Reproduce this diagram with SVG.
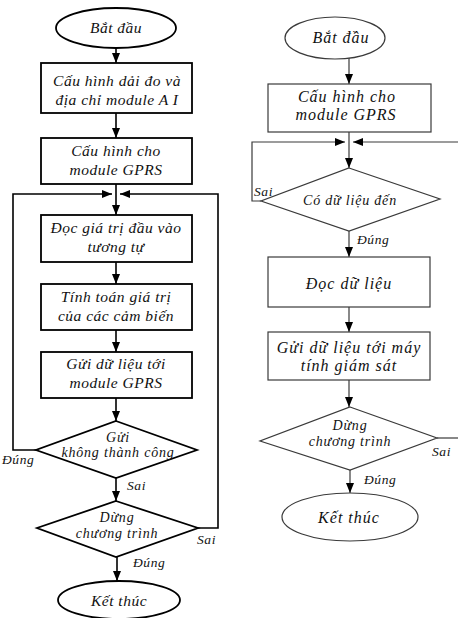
<svg xmlns="http://www.w3.org/2000/svg" width="458" height="618" viewBox="0 0 458 618">
<style>
  .bgL { fill: #fff; stroke: #000; stroke-width: 1.8; }
  .bgR { fill: #fff; stroke: #3a3a3a; stroke-width: 1.2; }
  .t { font-family: "Liberation Serif", "Times New Roman", serif; font-style: italic; font-size: 15.5px; fill: #111; text-anchor: middle; letter-spacing: 0.5px; }
  .tr { font-family: "Liberation Serif", "Times New Roman", serif; font-style: italic; font-size: 16px; fill: #111; text-anchor: middle; letter-spacing: 1px; }
  .ts { font-family: "Liberation Serif", "Times New Roman", serif; font-style: italic; font-size: 14px; fill: #111; text-anchor: middle; letter-spacing: 0.8px; }
  .lbl { font-family: "Liberation Serif", "Times New Roman", serif; font-style: italic; font-size: 13.5px; fill: #111; letter-spacing: 0.6px; }
  .cL { fill: none; stroke: #000; stroke-width: 1.6; }
  .cR { fill: none; stroke: #3a3a3a; stroke-width: 1.2; }
</style>
<defs>
  <marker id="ah" markerUnits="userSpaceOnUse" markerWidth="10" markerHeight="8" refX="10" refY="4" orient="auto">
    <path d="M0,0 L10,4 L0,8 z" fill="#000"/>
  </marker>
</defs>

<g id="connectors">
  <!-- left chart -->
  <line class="cL" x1="116" y1="48" x2="116" y2="63" marker-end="url(#ah)"/>
  <line class="cL" x1="116" y1="113" x2="116" y2="138" marker-end="url(#ah)"/>
  <line class="cL" x1="116" y1="184" x2="116" y2="215" marker-end="url(#ah)"/>
  <polyline class="cL" points="37,450 13,450 13,194 112,194" marker-end="url(#ah)"/>
  <polyline class="cL" points="198,528 218,528 218,194 120,194" marker-end="url(#ah)"/>
  <line class="cL" x1="116" y1="262" x2="116" y2="284" marker-end="url(#ah)"/>
  <line class="cL" x1="116" y1="330" x2="116" y2="352" marker-end="url(#ah)"/>
  <line class="cL" x1="116" y1="398" x2="116" y2="421" marker-end="url(#ah)"/>
  <line class="cL" x1="116" y1="478" x2="116" y2="501" marker-end="url(#ah)"/>
  <line class="cL" x1="117" y1="557" x2="117" y2="581" marker-end="url(#ah)"/>
  <text class="lbl" x="2" y="464">Đúng</text>
  <text class="lbl" x="127" y="490">Sai</text>
  <text class="lbl" x="197" y="544">Sai</text>
  <text class="lbl" x="133" y="567">Đúng</text>

  <!-- right chart -->
  <line class="cR" x1="349" y1="58" x2="349" y2="84" marker-end="url(#ah)"/>
  <line class="cR" x1="349" y1="132" x2="349" y2="168" marker-end="url(#ah)"/>
  <polyline class="cR" points="261,201 252,201 252,142 345,142" marker-end="url(#ah)"/>
  <line class="cR" x1="458" y1="142" x2="353" y2="142" marker-end="url(#ah)"/>
  <line class="cR" x1="349" y1="231" x2="349" y2="257" marker-end="url(#ah)"/>
  <line class="cR" x1="349" y1="307" x2="349" y2="332" marker-end="url(#ah)"/>
  <line class="cR" x1="349" y1="380" x2="349" y2="407" marker-end="url(#ah)"/>
  <line class="cR" x1="437" y1="438" x2="458" y2="438"/>
  <line class="cR" x1="350" y1="470" x2="350" y2="493" marker-end="url(#ah)"/>
  <text class="lbl" x="254" y="196">Sai</text>
  <text class="lbl" x="357" y="244">Đúng</text>
  <text class="lbl" x="432" y="456">Sai</text>
  <text class="lbl" x="364" y="484">Đúng</text>
</g>

<g id="start_L">
  <ellipse class="bgL" cx="116" cy="28" rx="60" ry="20"/>
  <text class="t" x="116" y="33">Bắt đầu</text>
</g>
<g id="config_ai_L">
  <rect class="bgL" x="41" y="63" width="151" height="50"/>
  <text class="t" x="117" y="86">Cấu hình dải đo và</text>
  <text class="t" x="117" y="105">địa chỉ module A I</text>
</g>
<g id="config_gprs_L">
  <rect class="bgL" x="41" y="138" width="151" height="46"/>
  <text class="t" x="116" y="156">Cấu hình cho</text>
  <text class="t" x="116" y="175">module GPRS</text>
</g>
<g id="read_analog_L">
  <rect class="bgL" x="41" y="215" width="151" height="47"/>
  <text class="t" x="116" y="233">Đọc giá trị đầu vào</text>
  <text class="t" x="116" y="252">tương tự</text>
</g>
<g id="compute_L">
  <rect class="bgL" x="41" y="284" width="151" height="46"/>
  <text class="t" x="116" y="302">Tính toán giá trị</text>
  <text class="t" x="116" y="321">của các cảm biến</text>
</g>
<g id="send_L">
  <rect class="bgL" x="41" y="352" width="151" height="46"/>
  <text class="t" x="116" y="369">Gửi dữ liệu tới</text>
  <text class="t" x="116" y="388">module GPRS</text>
</g>
<g id="send_fail_L">
  <polygon class="bgL" points="116,421 197,450 116,478 36,450"/>
  <text class="ts" x="118" y="442">Gửi</text>
  <text class="ts" x="118" y="457">không thành công</text>
</g>
<g id="stop_L">
  <polygon class="bgL" points="116,501 198,528 116,557 37,528"/>
  <text class="ts" x="117" y="522">Dừng</text>
  <text class="ts" x="117" y="538">chương trình</text>
</g>
<g id="end_L">
  <ellipse class="bgL" cx="119" cy="600" rx="61" ry="19"/>
  <text class="t" x="119" y="606">Kết thúc</text>
</g>

<g id="start_R">
  <ellipse class="bgR" cx="335" cy="38" rx="50" ry="21"/>
  <text class="tr" x="341" y="43">Bắt đầu</text>
</g>
<g id="config_gprs_R">
  <rect class="bgR" x="268" y="84" width="163" height="48"/>
  <text class="tr" x="347" y="102">Cấu hình cho</text>
  <text class="tr" x="346" y="120">module GPRS</text>
</g>
<g id="data_arrived_R">
  <polygon class="bgR" points="349,168 440,199 349,231 261,201"/>
  <text class="ts" x="350" y="205">Có dữ liệu đến</text>
</g>
<g id="read_data_R">
  <rect class="bgR" x="268" y="257" width="162" height="50"/>
  <text class="tr" x="349" y="289">Đọc dữ liệu</text>
</g>
<g id="send_pc_R">
  <rect class="bgR" x="268" y="332" width="162" height="48"/>
  <text class="tr" x="349" y="353">Gửi dữ liệu tới máy</text>
  <text class="tr" x="349" y="371">tính giám sát</text>
</g>
<g id="stop_R">
  <polygon class="bgR" points="350,407 437,438 350,470 260,441"/>
  <text class="ts" x="350" y="430">Dừng</text>
  <text class="ts" x="350" y="446">chương trình</text>
</g>
<g id="end_R">
  <ellipse class="bgR" cx="350" cy="517" rx="68" ry="24"/>
  <text class="tr" x="349" y="523">Kết thúc</text>
</g>
</svg>
